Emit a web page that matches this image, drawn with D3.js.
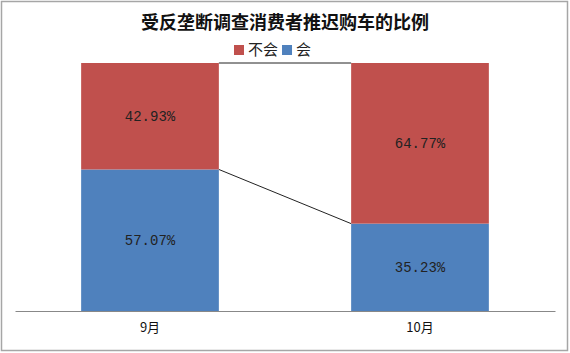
<!DOCTYPE html>
<html>
<head>
<meta charset="utf-8">
<script src="https://cdn.jsdelivr.net/npm/d3@7"></script>
<style>
  body { margin: 0; background: #fff; }
  svg { display: block; }
</style>
</head>
<body>
<svg id="svg" width="570" height="353"></svg>
<script>
// chart values
const months = ["9月", "10月"];
const seriesNames = ["会", "不会"];
const willDelay = [57.07, 35.23];
const wontDelay = [42.93, 64.77];
const seriesColors = ["#4F81BD", "#C0504D"];

const svg = d3.select("#svg");
const W = 570, H = 353;
var margin = {top: 63, right: 15, bottom: 42, left: 15};
var width = W - margin.left - margin.right;
var height = H - margin.top - margin.bottom;

// outer frame
svg.append("rect")
  .attr("x", 1.5).attr("y", 1.5)
  .attr("width", W - 4).attr("height", H - 4)
  .attr("fill", "#fff")
  .attr("stroke", "#a6a6a6")
  .attr("stroke-width", 1.5);

// title
svg.append("text")
  .attr("x", W / 2)
  .attr("y", 29)
  .attr("text-anchor", "middle")
  .style("font-family", "'Noto Sans CJK SC', sans-serif")
  .style("font-weight", "bold")
  .style("font-size", "18px")
  .attr("fill", "#111")
  .text("受反垄断调查消费者推迟购车的比例");

const data = months.map((m, i) => ({month: m, "会": willDelay[i], "不会": wontDelay[i]}));
const stacked = d3.stack().keys(seriesNames)(data);

const x = d3.scaleBand().domain(months).range([0, width]).paddingInner(0).paddingOuter(0);
const y = d3.scaleLinear().domain([0, 100]).range([height, 0]);
const barW = x.bandwidth() * 0.51;

const g = svg.append("g")
  .attr("transform", "translate(" + margin.left + "," + margin.top + ")");

// connecting series lines
stacked.forEach(function(layer) {
  for (let i = 0; i < layer.length - 1; i++) {
    g.append("line")
      .attr("x1", x(months[i]) + x.bandwidth() / 2 + barW / 2)
      .attr("y1", y(layer[i][1]))
      .attr("x2", x(months[i + 1]) + x.bandwidth() / 2 - barW / 2)
      .attr("y2", y(layer[i + 1][1]))
      .attr("stroke", "#222")
      .attr("stroke-width", 1);
  }
});

// bars
g.selectAll(".layer")
  .data(stacked)
  .enter().append("g")
    .attr("class", "layer")
    .attr("fill", (d, i) => seriesColors[i])
  .selectAll("rect")
    .data(d => d)
  .enter().append("rect")
    .attr("x", d => x(d.data.month) + x.bandwidth() / 2 - barW / 2)
    .attr("y", d => y(d[1]))
    .attr("width", barW)
    .attr("height", d => y(d[0]) - y(d[1]));

// value labels
stacked.forEach(function(layer) {
  g.selectAll(null)
    .data(layer)
    .enter().append("text")
      .attr("x", d => x(d.data.month) + x.bandwidth() / 2)
      .attr("y", d => y((d[0] + d[1]) / 2))
      .attr("dy", "0.35em")
      .attr("text-anchor", "middle")
      .style("font-family", "'Liberation Mono', monospace")
      .style("font-size", "14px")
      .attr("fill", "#222")
      .text(d => (d[1] - d[0]).toFixed(2) + "%");
});

// x axis
const xAxis = g.append("g")
  .attr("transform", "translate(0," + height + ")")
  .call(d3.axisBottom(x).tickSize(0).tickPadding(12));
xAxis.select(".domain").attr("stroke", "#888");
xAxis.selectAll("text")
  .style("font-family", "'Noto Sans CJK SC', sans-serif")
  .style("font-size", "13px")
  .attr("fill", "#111");

// legend
const legendItems = [
  {name: "不会", color: seriesColors[1]},
  {name: "会", color: seriesColors[0]}
];
const legend = svg.append("g").attr("transform", "translate(234,50)");
let lx = 0;
legendItems.forEach(function(it) {
  legend.append("rect")
    .attr("x", lx).attr("y", -5)
    .attr("width", 10).attr("height", 10)
    .attr("fill", it.color);
  const t = legend.append("text")
    .attr("x", lx + 14).attr("y", 0)
    .attr("dy", "0.36em")
    .style("font-family", "'Noto Sans CJK SC', sans-serif")
    .style("font-size", "15px")
    .attr("fill", "#222")
    .text(it.name);
  lx += 14 + t.node().getComputedTextLength() + 4;
});
</script>
</body>
</html>
